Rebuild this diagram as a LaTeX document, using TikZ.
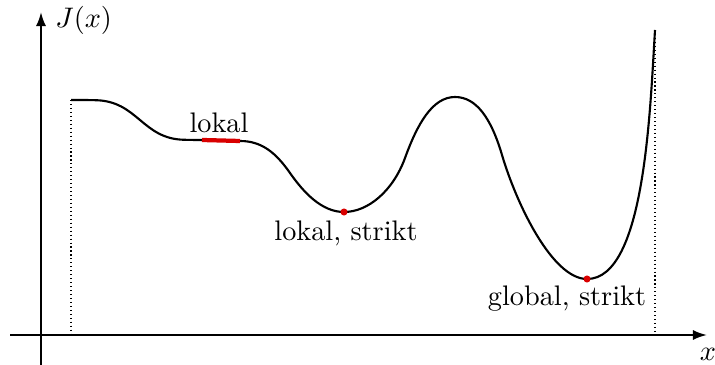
\documentclass[tikz,border=0pt]{standalone}
\usetikzlibrary{arrows.meta}
\begin{document}
\begin{tikzpicture}[x=0.3536pt,y=-0.3536pt,
  axis/.style={line width=0.75pt,-{Latex[length=5pt,width=3.6pt]}},
  bound/.style={line width=0.4pt,densely dotted},
  curve/.style={line width=0.75pt},
  mindot/.style={circle,fill=red!85!black,inner sep=0pt,minimum size=2.5pt},
  lbl/.style={inner sep=1pt}]
\useasboundingbox (0,0) rectangle (715,365);
% axes
\coordinate (xs) at (10,335);
\coordinate (xe) at (707,335);
\coordinate (ys) at (41,365);
\coordinate (ye) at (41,12);
\draw[axis] (xs) -- (xe);
\draw[axis] (ys) -- (ye);
\node[lbl,anchor=west] (Jx) at (52,20) {$J(x)$};
\node[lbl] (xl) at (708,354) {$x$};
% bounds
\coordinate (lb) at (71,100);
\coordinate (lb0) at (71,335);
\coordinate (rb) at (655,30);
\coordinate (rb0) at (655,335);
\draw[bound] (lb) -- (lb0);
\draw[bound] (rb) -- (rb0);
% curve
\draw[curve] (71,100)
  .. controls (80,100) and (88,100) .. (95,100.2)
  .. controls (138,100.6) and (142,139.5) .. (185,139.8)
  .. controls (190,139.9) and (195,140) .. (200,140)
  -- (240,141)
  .. controls (262,141) and (276,153) .. (290,173)
  .. controls (304,193) and (322,212) .. (344,212)
  .. controls (368,212) and (393,191) .. (405,158)
  .. controls (417,125) and (432,97) .. (455,97)
  .. controls (476,97) and (491,117.6) .. (502,155)
  .. controls (516,202.6) and (552,279) .. (587,279)
  .. controls (645,279) and (650,110) .. (655,30);
% local plateau
\coordinate (pa) at (202,140);
\coordinate (pb) at (240,141);
\draw[red!85!black,line width=1.5pt] (pa) -- (pb);
\node[lbl,anchor=base] (lokal) at (219,133) {lokal};
% strict minima
\node[mindot] (m1) at (344,212) {};
\node[mindot] (m2) at (587,279) {};
\node[lbl] (l1) at (346,233) {lokal, strikt};
\node[lbl] (l2) at (567,299) {global, strikt};
\end{tikzpicture}
\end{document}
